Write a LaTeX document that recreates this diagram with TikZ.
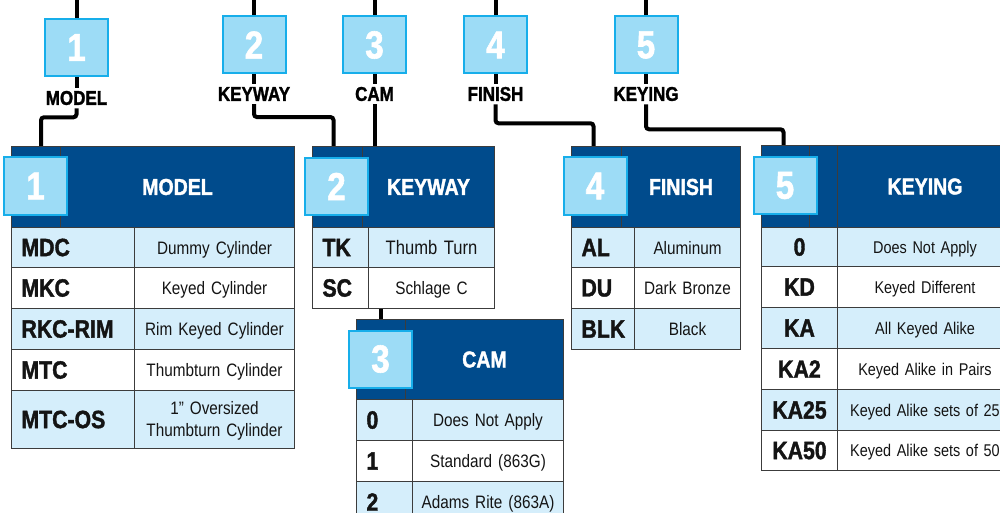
\documentclass[tikz,border=0pt]{standalone}
\usepackage{fontspec}
\setmainfont{Liberation Sans}[FakeStretch=0.85, BoldFeatures={FakeBold=1.5}]
\definecolor{hdrblue}{RGB}{0,75,140}
\definecolor{badgefill}{RGB}{157,220,246}
\definecolor{badgeline}{RGB}{23,174,234}
\definecolor{rowblue}{RGB}{213,238,251}
\definecolor{tblline}{RGB}{60,60,60}
\definecolor{ink}{RGB}{20,20,20}

\begin{document}
\begin{tikzpicture}[
    x=1pt, y=-1pt,
    wire/.style={line width=4pt, rounded corners=3pt},
    badge/.style={draw=badgeline, line width=2pt, fill=badgefill, text=white, minimum width=63pt, minimum height=57pt, inner sep=0pt, font=\fontsize{39}{40}\selectfont\bfseries},
    lbl/.style={inner sep=3pt, font=\fontsize{20}{22}\selectfont\bfseries},
    hdr/.style={draw=tblline, line width=1pt, fill=hdrblue, text=white, anchor=north west, inner sep=0pt, font=\fontsize{23}{25}\selectfont\bfseries},
    code/.style={draw=tblline, line width=1pt, anchor=north west, inner xsep=10pt, inner ysep=0pt, align=left, text=ink, font=\fontsize{25}{27}\selectfont\bfseries},
    desc/.style={draw=tblline, line width=1pt, anchor=north west, inner xsep=2pt, inner ysep=0pt, align=center, text depth=0pt, text=ink, font=\fontsize{18}{22}\selectfont}
]
    \useasboundingbox (0,0) rectangle (1000,513);
    \coordinate (rim) at (0,0);

    % top row of steps
    \node[badge] (b1) at (76.5,47.5) {1};
    \node[badge] (b2) at (254,45) {2};
    \node[badge] (b3) at (374.5,45) {3};
    \node[badge] (b4) at (495.5,45) {4};
    \node[badge] (b5) at (646,45) {5};

    \node[lbl] (lb1) at (76.5,98) {MODEL};
    \node[lbl] (lb2) at (254,94) {KEYWAY};
    \node[lbl] (lb3) at (374.5,94) {CAM};
    \node[lbl] (lb4) at (495.5,94) {FINISH};
    \node[lbl] (lb5) at (646,94) {KEYING};

    % model table
    \node[hdr, minimum width=49pt, minimum height=81pt] (hL1) at (11,146) {};
    \node[hdr, minimum width=234pt, minimum height=81pt] (hR1) at (60,146) {MODEL};
    \node[code, fill=rowblue, text width=103pt, minimum height=40pt] (m1) at (11,227) {MDC};
    \node[desc, fill=rowblue, text width=156pt, minimum height=40pt] (m1d) at (134,227) {Dummy Cylinder};
    \node[code, fill=white, text width=103pt, minimum height=41pt] (m2) at (11,267) {MKC};
    \node[desc, fill=white, text width=156pt, minimum height=41pt] (m2d) at (134,267) {Keyed Cylinder};
    \node[code, fill=rowblue, text width=103pt, minimum height=41pt] (m3) at (11,308) {RKC-RIM};
    \node[desc, fill=rowblue, text width=156pt, minimum height=41pt] (m3d) at (134,308) {Rim Keyed Cylinder};
    \node[code, fill=white, text width=103pt, minimum height=41pt] (m4) at (11,349) {MTC};
    \node[desc, fill=white, text width=156pt, minimum height=41pt] (m4d) at (134,349) {Thumbturn Cylinder};
    \node[code, fill=rowblue, text width=103pt, minimum height=58pt] (m5) at (11,390) {MTC-OS};
    \node[desc, fill=rowblue, text width=156pt, minimum height=58pt, text depth=23pt] (m5d) at (134,390) {1” Oversized\\Thumbturn Cylinder};

    % keyway table
    \node[hdr, minimum width=50pt, minimum height=81pt] (hL2) at (312,146) {};
    \node[hdr, minimum width=132pt, minimum height=81pt] (hR2) at (362,146) {KEYWAY};
    \node[code, fill=rowblue, text width=36pt, minimum height=40pt] (k1) at (312,227) {TK};
    \node[desc, fill=rowblue, text width=122pt, minimum height=40pt, font=\fontsize{19.5}{22}\selectfont] (k1d) at (368,227) {Thumb Turn};
    \node[code, fill=white, text width=36pt, minimum height=41pt] (k2) at (312,267) {SC};
    \node[desc, fill=white, text width=122pt, minimum height=41pt] (k2d) at (368,267) {Schlage C};

    % cam table
    \node[hdr, minimum width=49pt, minimum height=80pt] (hL3) at (356,319) {};
    \node[hdr, minimum width=158pt, minimum height=80pt] (hR3) at (405,319) {CAM};
    \node[code, fill=rowblue, text width=36pt, minimum height=41pt] (c1) at (356,399) {0};
    \node[desc, fill=rowblue, text width=147pt, minimum height=41pt] (c1d) at (412,399) {Does Not Apply};
    \node[code, fill=white, text width=36pt, minimum height=41pt] (c2) at (356,440) {1};
    \node[desc, fill=white, text width=147pt, minimum height=41pt] (c2d) at (412,440) {Standard (863G)};
    \node[code, fill=rowblue, text width=36pt, minimum height=41pt] (c3) at (356,481) {2};
    \node[desc, fill=rowblue, text width=147pt, minimum height=41pt] (c3d) at (412,481) {Adams Rite (863A)};

    % finish table
    \node[hdr, minimum width=50pt, minimum height=81pt] (hL4) at (571,146) {};
    \node[hdr, minimum width=119pt, minimum height=81pt] (hR4) at (621,146) {FINISH};
    \node[code, fill=rowblue, text width=43pt, minimum height=40pt] (f1) at (571,227) {AL};
    \node[desc, fill=rowblue, text width=102pt, minimum height=40pt] (f1d) at (634,227) {Aluminum};
    \node[code, fill=white, text width=43pt, minimum height=41pt] (f2) at (571,267) {DU};
    \node[desc, fill=white, text width=102pt, minimum height=41pt] (f2d) at (634,267) {Dark Bronze};
    \node[code, fill=rowblue, text width=43pt, minimum height=41pt] (f3) at (571,308) {BLK};
    \node[desc, fill=rowblue, text width=102pt, minimum height=41pt] (f3d) at (634,308) {Black};

    % keying table
    \tikzset{keydesc/.style={desc, text width=171pt, font=\fontsize{17}{20}\selectfont}}
    \node[hdr, minimum width=48pt, minimum height=82pt] (hL5) at (761,145) {};
    \node[hdr, minimum width=28pt, minimum height=82pt] (hM5) at (809,145) {};
    \node[hdr, minimum width=175pt, minimum height=82pt] (hR5) at (837,145) {KEYING};
    \node[code, fill=rowblue, inner xsep=2pt, align=center, text width=72pt, minimum height=39pt] (y1) at (761,227) {0};
    \node[keydesc, fill=rowblue, minimum height=39pt] (y1d) at (837,227) {Does Not Apply};
    \node[code, fill=white, inner xsep=2pt, align=center, text width=72pt, minimum height=41pt] (y2) at (761,266) {KD};
    \node[keydesc, fill=white, minimum height=41pt] (y2d) at (837,266) {Keyed Different};
    \node[code, fill=rowblue, inner xsep=2pt, align=center, text width=72pt, minimum height=41pt] (y3) at (761,307) {KA};
    \node[keydesc, fill=rowblue, minimum height=41pt] (y3d) at (837,307) {All Keyed Alike};
    \node[code, fill=white, inner xsep=2pt, align=center, text width=72pt, minimum height=41pt] (y4) at (761,348) {KA2};
    \node[keydesc, fill=white, minimum height=41pt] (y4d) at (837,348) {Keyed Alike in Pairs};
    \node[code, fill=rowblue, inner xsep=2pt, align=center, text width=72pt, minimum height=41pt] (y5) at (761,389) {KA25};
    \node[keydesc, fill=rowblue, minimum height=41pt] (y5d) at (837,389) {Keyed Alike sets of 25};
    \node[code, fill=white, inner xsep=2pt, align=center, text width=72pt, minimum height=40pt] (y6) at (761,430) {KA50};
    \node[keydesc, fill=white, minimum height=40pt] (y6d) at (837,430) {Keyed Alike sets of 50};

    % badges on the tables
    \node[badge] (tb1) at (35.5,186) {1};
    \node[badge] (tb2) at (336.5,186.5) {2};
    \node[badge] (tb3) at (380.5,359) {3};
    \node[badge] (tb4) at (595,186) {4};
    \node[badge] (tb5) at (785,185.5) {5};

    % wires
    \draw[wire] (b1.north |- rim) -- (b1.north);
    \draw[wire] (b2.north |- rim) -- (b2.north);
    \draw[wire] (b3.north |- rim) -- (b3.north);
    \draw[wire] (b4.north |- rim) -- (b4.north);
    \draw[wire] (b5.north |- rim) -- (b5.north);
    \draw[wire] (b1.south) -- (lb1.north);
    \draw[wire] (b2.south) -- (lb2.north);
    \draw[wire] (b3.south) -- (lb3.north);
    \draw[wire] (b4.south) -- (lb4.north);
    \draw[wire] (b5.south) -- (lb5.north);
    \draw[wire] (lb1.south) -- ++(0,9) -| ([xshift=5pt]hL1.north);
    \draw[wire] (lb2.south) -- ++(0,13) -| ([xshift=-4pt]hL2.north);
    \draw[wire] (lb3.south) -- (lb3.south |- hR2.north);
    \draw[wire] (lb4.south) -- ++(0,19) -| ([xshift=-3pt]hL4.north);
    \draw[wire] (lb5.south) -- ++(0,25) -| ([xshift=-2pt]hL5.north);
    \draw[wire] (hL3.north) -- (hL3.north |- k2d.south);
\end{tikzpicture}
\end{document}
